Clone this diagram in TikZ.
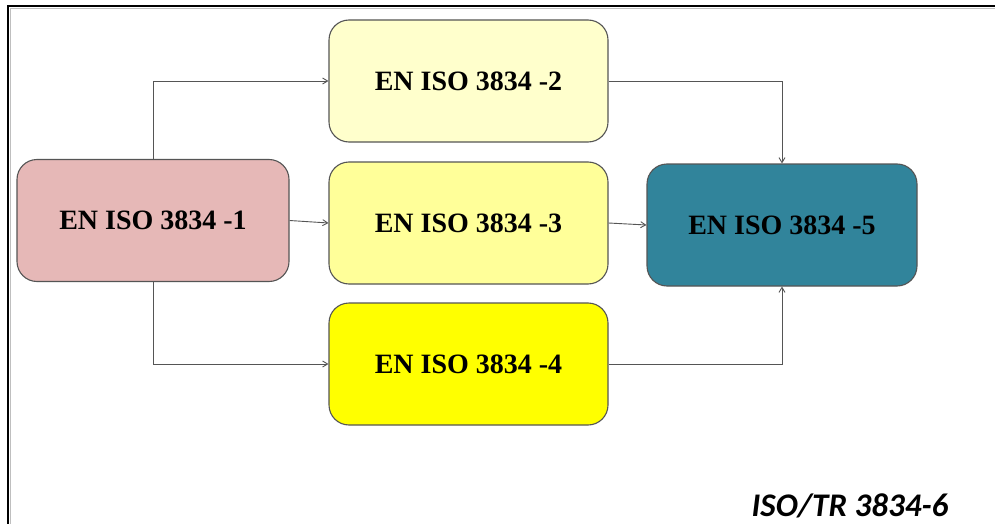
\documentclass[tikz,border=0pt]{standalone}
\usepackage{fontspec}
\setmainfont{Liberation Serif}
\newfontfamily\calfont{Carlito}
\usetikzlibrary{arrows.meta}
\definecolor{cpink}{HTML}{E6B8B7}
\definecolor{cy1}{HTML}{FFFFCC}
\definecolor{cy2}{HTML}{FFFF99}
\definecolor{cy3}{HTML}{FFFF00}
\definecolor{cteal}{HTML}{31849B}
\definecolor{cedge}{HTML}{555555}
\begin{document}
\begin{tikzpicture}[x=1pt,y=-1pt,
  stdbox/.style={draw=cedge,line width=1.1pt,rounded corners=20pt,minimum width=#1,minimum height=122pt,inner sep=0pt,font=\fontsize{28}{32}\selectfont\bfseries},
  conn/.style={draw=cedge,line width=0.9pt,-{Straight Barb[length=5pt,width=6pt]}}]
\useasboundingbox (0,0) rectangle (995,524);
\fill[white] (0,0) rectangle (995,524);
\draw[line width=2pt] (8,524) -- (8,6) -- (995,6);
\draw[gray!50,line width=1pt] (10.5,524) -- (10.5,8.5) -- (995,8.5);
\node[stdbox=272pt,fill=cpink] (b1) at (153,220.5) {EN ISO 3834 -1};
\node[stdbox=279pt,fill=cy1] (b2) at (468.5,81) {EN ISO 3834 -2};
\node[stdbox=279pt,fill=cy2] (b3) at (468.5,223) {EN ISO 3834 -3};
\node[stdbox=279pt,fill=cy3] (b4) at (468.5,364) {EN ISO 3834 -4};
\node[stdbox=270pt,fill=cteal] (b5) at (782,225) {EN ISO 3834 -5};
\draw[conn] (b1.north) |- (b2.west);
\draw[conn] (b1.east) -- (b3.west);
\draw[conn] (b1.south) |- (b4.west);
\draw[conn] (b2.east) -| (b5.north);
\draw[conn] (b3.east) -- (b5.west);
\draw[conn] (b4.east) -| (b5.south);
\node[font=\calfont\fontsize{33}{36}\selectfont\bfseries\itshape,inner sep=0pt] (t6) at (850,506) {ISO/TR 3834-6};
\end{tikzpicture}
\end{document}
